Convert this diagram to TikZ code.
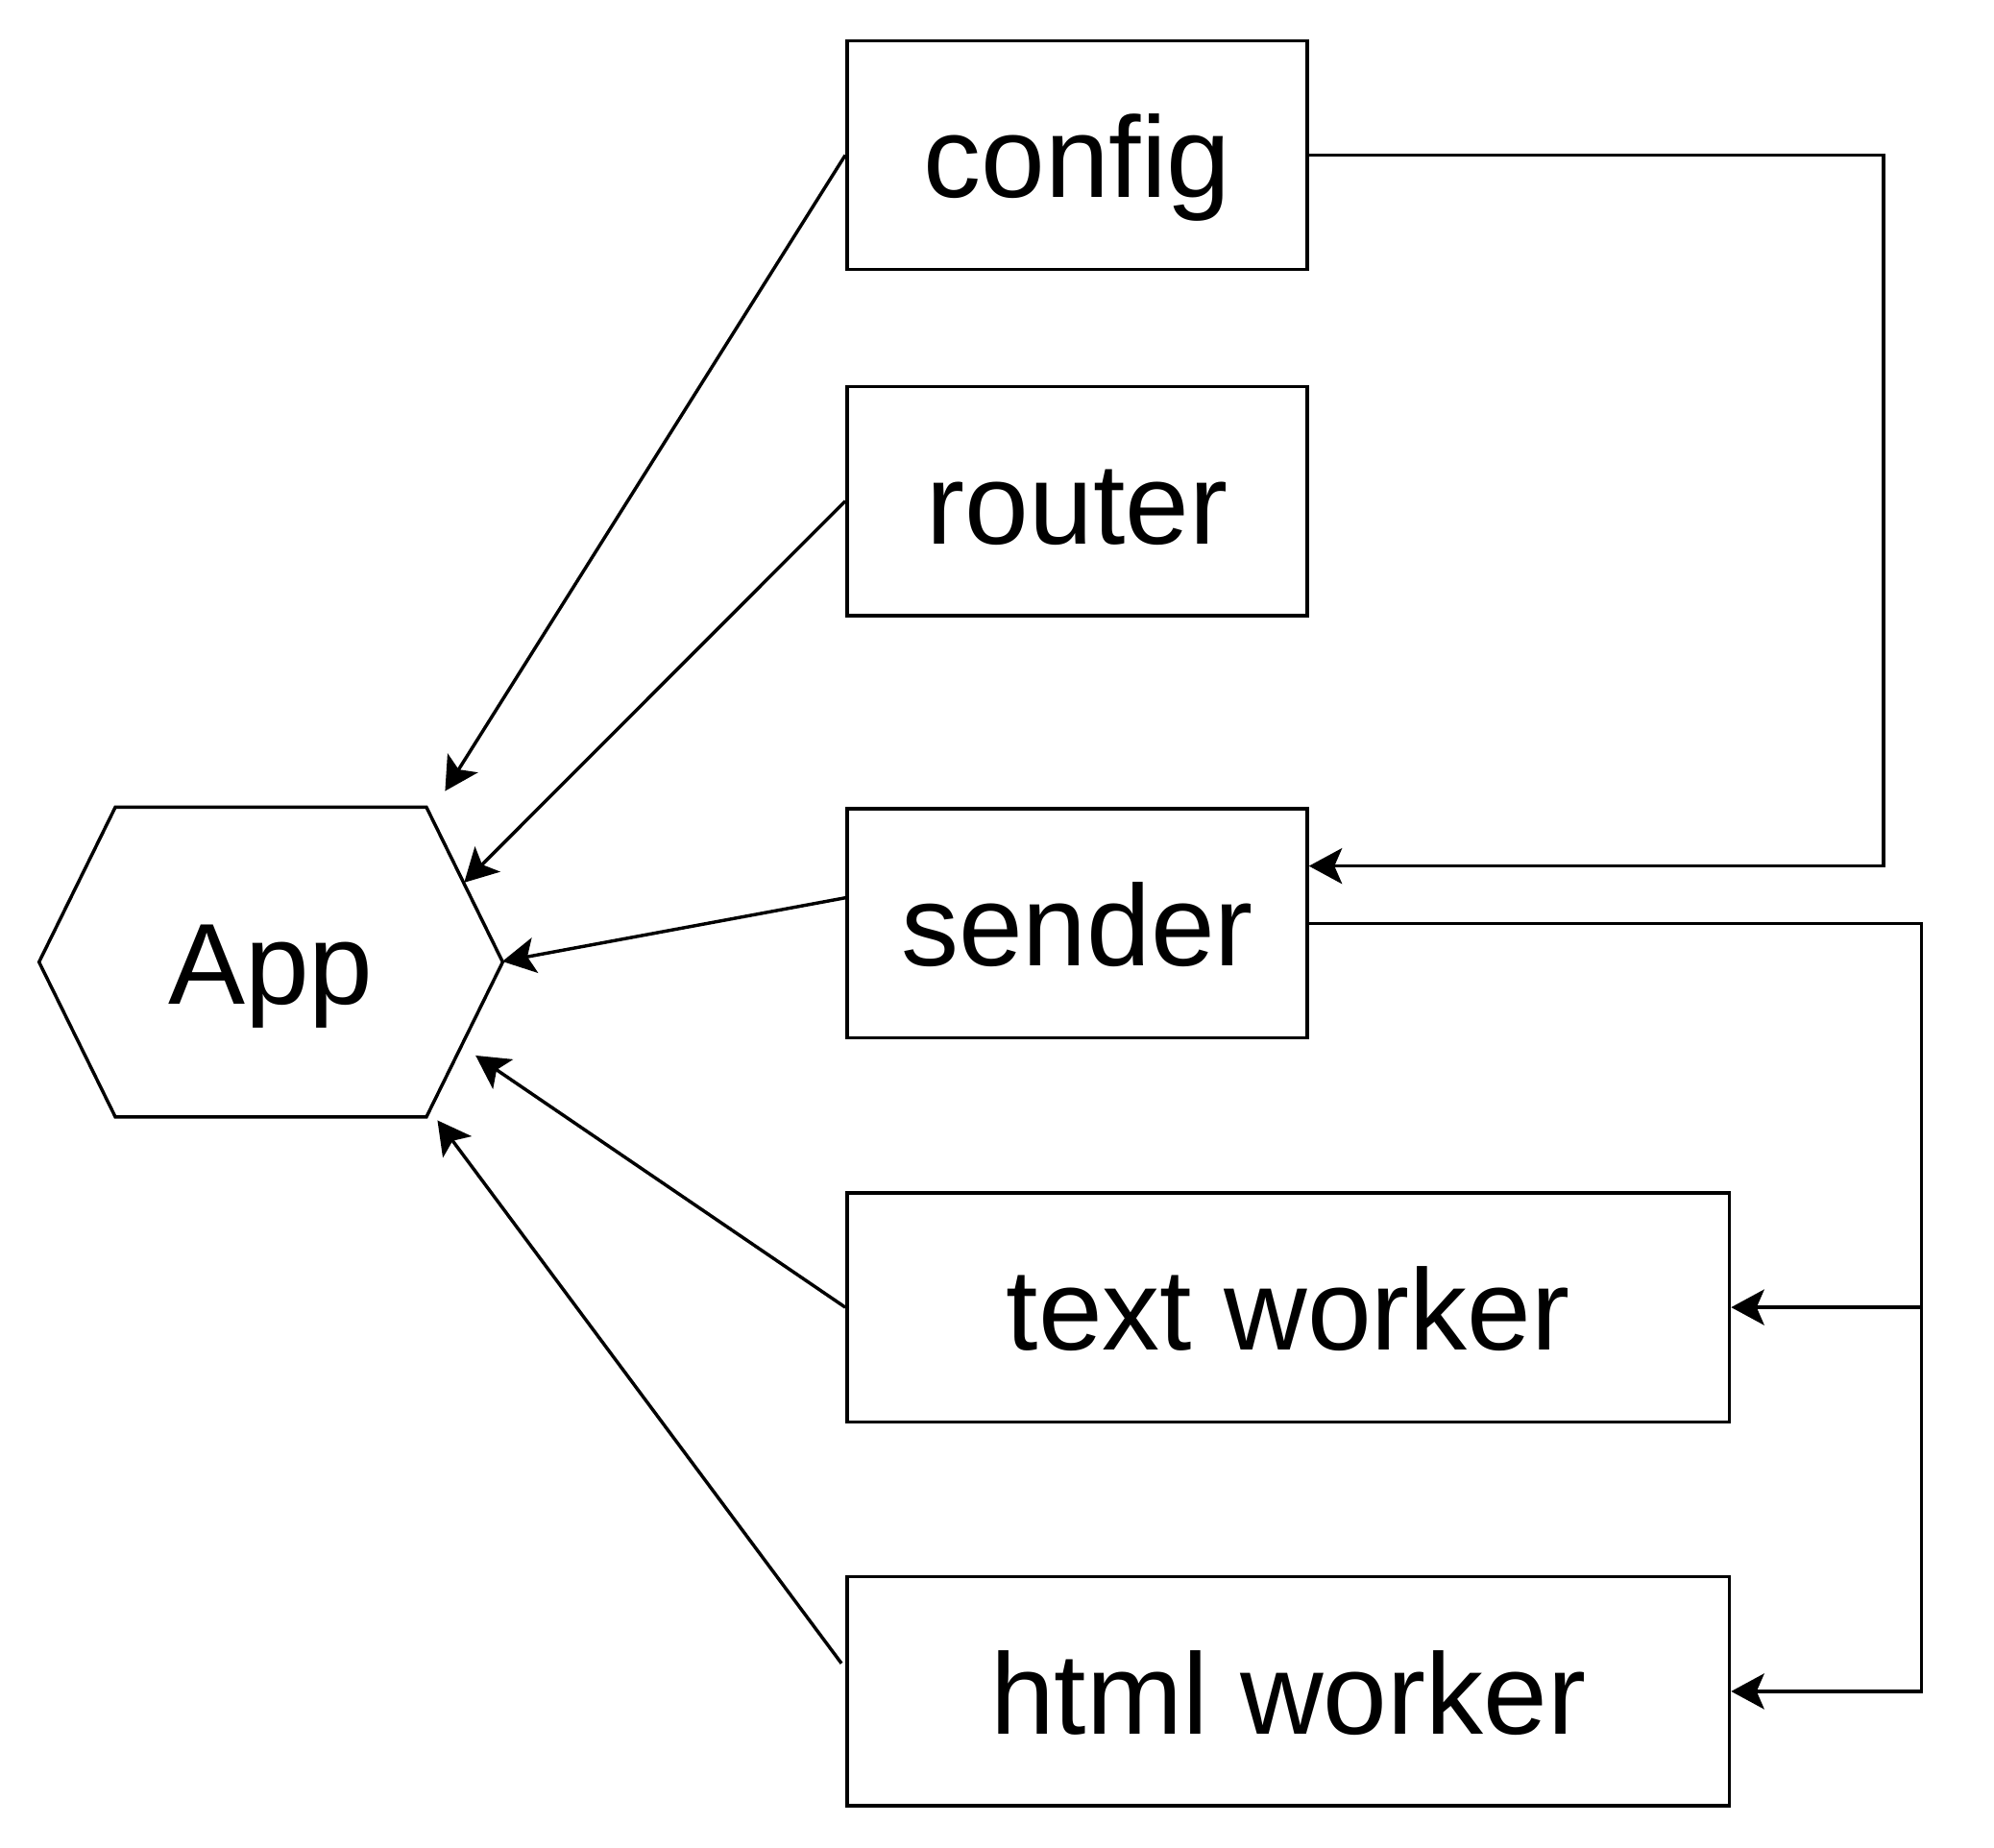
\documentclass[tikz,border=0pt]{standalone}
\usepackage{fontspec}
\setmainfont{Liberation Sans}
\usetikzlibrary{arrows.meta,calc}
\begin{document}
\begin{tikzpicture}[x=0.5pt,y=-0.5pt,
  line width=1.3pt,
  lbl/.style={inner sep=0pt,text height=33.5pt,text depth=0pt,font=\fontsize{45.3}{54}\selectfont},
  box/.style={lbl,draw,line width=1.3pt,minimum height=90pt},
  smallbox/.style={box,minimum width=181pt},
  widebox/.style={box,minimum width=347pt},
  conn/.style={-{Stealth[length=13pt,width=14pt,inset=3pt]}}]
\useasboundingbox (0,0) rectangle (1568,1453);
\node[smallbox] (config) at (847,122) {config};
\node[smallbox] (router) at (847,394) {router};
\node[smallbox] (sender) at (847,726) {sender};
\node[widebox] (text) at (1013,1028) {text worker};
\node[widebox] (html) at (1013,1330) {html worker};
\node[lbl,minimum width=181pt,minimum height=120.5pt] (app) at (213,756.5) {App};
\draw (app.west) -- ($(app.north west)+(60,0)$) -- ($(app.north east)+(-60,0)$) -- (app.east)
  -- ($(app.south east)+(-60,0)$) -- ($(app.south west)+(60,0)$) -- cycle;
\coordinate (t1) at (350,622);
\coordinate (t2) at (365,694);
\coordinate (t3) at (395,756);
\coordinate (t4) at (374,830);
\coordinate (t5) at (344,881);
\draw[conn] (config.west) -- (t1);
\draw[conn] (router.west) -- (t2);
\draw[conn] ($(sender.west)+(0,-20)$) -- (t3);
\draw[conn] (text.west) -- (t4);
\draw[conn] ($(html.west)+(-3,-22)$) -- (t5);
\coordinate (c1) at (1481,122);
\coordinate (c2) at (1481,681);
\draw[conn] (config.east) -- (c1) -- (c2) -- (sender.east |- c2);
\coordinate (s1) at (1511,726);
\coordinate (s2) at (1511,1330);
\coordinate (s3) at (1511,1028);
\draw[conn] (sender.east) -- (s1) -- (s2) -- (html.east);
\draw[conn] (s3) -- (text.east);
\end{tikzpicture}
\end{document}
